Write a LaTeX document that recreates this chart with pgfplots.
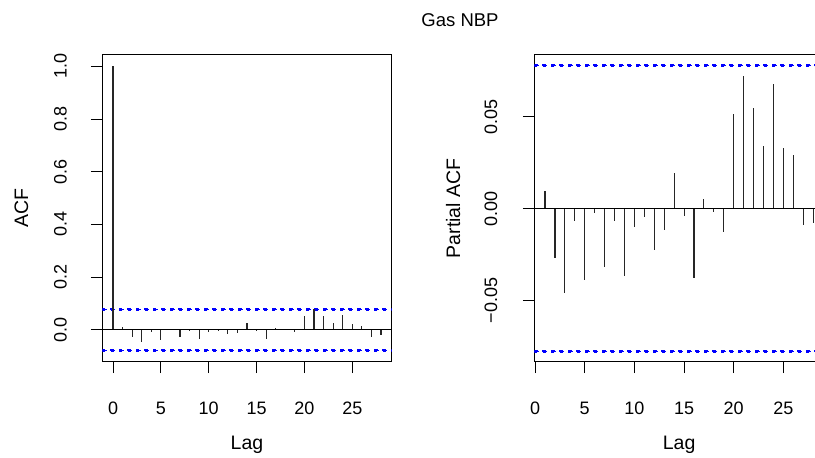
\documentclass[border=0pt]{standalone}
\usepackage{fontspec}
\setmainfont{Liberation Sans}
\usepackage{pgfplots}
\pgfplotsset{compat=1.18}
\usetikzlibrary{decorations.markings}
\definecolor{rblue}{RGB}{0,0,255}
\begin{document}
\begin{tikzpicture}[x=1pt,y=1pt]
\useasboundingbox (0,0) rectangle (815,458);
\pgfplotsset{
  acfstyle/.style={
    scale only axis, height=306.7pt, anchor=south west,
    axis line style={line width=1pt, black},
    tick align=outside, xtick pos=bottom, ytick pos=left,
    major tick length=11.5pt,
    scaled y ticks=false, scaled x ticks=false,
    tick style={line width=1pt, black},
    tick label style={font=\fontsize{18}{21}\selectfont, inner sep=0pt},
    xticklabel style={anchor=base, yshift=-41.3pt},
    label style={font=\fontsize{19.5}{22}\selectfont, inner sep=0pt},
    xlabel style={at={(axis description cs:0.5,-0.2847)}, anchor=base},
    ylabel style={at={(axis description cs:-0.256,0.5)}, anchor=base},
    xlabel={Lag},
    xtick={0,5,10,15,20,25},
    xticklabels={0,5,10,15,20,25},
  },
  bars/.style={ycomb, black!85, line width=1.1pt, mark=none},
  conf/.style={draw=rblue, line width=1.3pt, dash pattern=on 4.5pt off 4pt, mark=none,
    postaction={decorate, decoration={markings,
      mark=between positions 0 and 1 step 8.5pt with {\fill[rblue] (0pt,-0.65pt) rectangle (4.5pt,0.65pt);}}}},
}
% Left: ACF
\begin{axis}[acfstyle, width=289.4pt, at={(102.3pt,96.3pt)},
  xmin=-1.12, xmax=29.12, ymin=-0.1209, ymax=1.0431,
  ytick={0,0.2,0.4,0.6,0.8,1.0},
  yticklabels={0.0,0.2,0.4,0.6,0.8,1.0},
  yticklabel style={xshift=-24.3pt, rotate=90, anchor=base},
  ylabel={ACF}]
\addplot[conf] coordinates {(-1.12,0.0778) (29.12,0.0778)};
\addplot[conf] coordinates {(-1.12,-0.0778) (29.12,-0.0778)};
\addplot[bars] coordinates {
(0,1.0) (1,0.010) (2,-0.028) (3,-0.047) (4,-0.009) (5,-0.038) (6,0.002)
(7,-0.029) (8,-0.004) (9,-0.035) (10,-0.007) (11,0.001) (12,-0.016)
(13,-0.011) (14,0.025) (15,-0.002) (16,-0.035) (17,0.006) (18,0.002)
(19,-0.010) (20,0.053) (21,0.078) (22,0.053) (23,0.025) (24,0.056)
(25,0.023) (26,0.015) (27,-0.028) (28,-0.020)};
\addplot[black, line width=1pt, mark=none] coordinates {(-5,0) (35,0)};
\end{axis}
% Right: PACF
\begin{axis}[acfstyle, width=289.6pt, at={(534.3pt,96.3pt)},
  xmin=-0.08, xmax=29.08, ymin=-0.0832, ymax=0.0835,
  ytick={-0.05,0,0.05},
  yticklabels={−0.05,0.00,0.05},
  yticklabel style={xshift=-25.8pt, rotate=90, anchor=base},
  ylabel={Partial ACF}]
\addplot[conf] coordinates {(-0.08,0.0777) (29.08,0.0777)};
\addplot[conf] coordinates {(-0.08,-0.0777) (29.08,-0.0777)};
\addplot[bars] coordinates {
(1,0.0096) (2,-0.0269) (3,-0.0458) (4,-0.0070) (5,-0.0390) (6,-0.0025)
(7,-0.0319) (8,-0.0065) (9,-0.0368) (10,-0.0101) (11,-0.0043) (12,-0.0224)
(13,-0.0114) (14,0.0195) (15,-0.0038) (16,-0.0377) (17,0.0051) (18,-0.0016)
(19,-0.0128) (20,0.0516) (21,0.0722) (22,0.0549) (23,0.0339) (24,0.0679)
(25,0.0330) (26,0.0289) (27,-0.0090) (28,-0.0079)};
\addplot[black, line width=1pt, mark=none] coordinates {(-5,0) (35,0)};
\end{axis}
\node[anchor=base, inner sep=0pt, font=\fontsize{18.5}{21}\selectfont] at (460,431.3) {Gas NBP};
\end{tikzpicture}
\end{document}
